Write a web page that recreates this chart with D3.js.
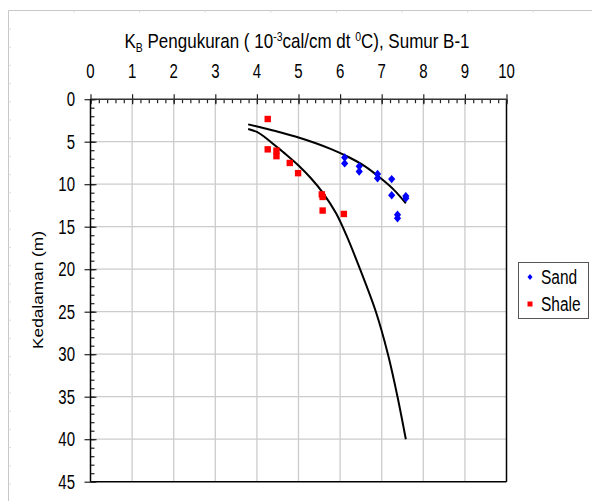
<!DOCTYPE html>
<html><head><meta charset="utf-8">
<script src="https://cdn.jsdelivr.net/npm/d3@7"></script>
<style>
body{margin:0;background:#fff;}
svg{display:block;font-family:"Liberation Sans",Arial,sans-serif;}
</style></head>
<body>
<svg id="c" width="592" height="501"></svg>
<script>
// ---- data ----
const xTicks = [0,1,2,3,4,5,6,7,8,9,10];
const yTicks = [0,5,10,15,20,25,30,35,40,45];
const seriesNames = ["Sand","Shale"];
const sandX = [6.11,6.11,6.46,6.46,6.90,6.90,7.24,7.24,7.58,7.58,7.38,7.38];
const sandY = [6.85,7.55,7.90,8.50,8.80,9.30,9.40,11.30,11.40,11.65,13.60,14.00];
const shaleX = [4.26,4.26,4.47,4.47,4.79,4.99,5.56,5.58,5.58,6.09];
const shaleY = [2.33,5.90,6.05,6.70,7.50,8.70,11.20,11.50,13.10,13.50];
const sandTrendX = [3.79,4.20,4.60,5.00,5.40,5.80,6.20,6.60,7.00,7.30,7.58];
const sandTrendY = [2.96,3.45,3.95,4.50,5.15,5.90,6.80,7.90,9.40,10.70,12.25];
const shaleTrendX = [3.79,4.00,4.20,4.40,4.70,5.00,5.30,5.60,5.90,6.15,6.48,6.86,7.15,7.38,7.58];
const shaleTrendY = [3.50,3.85,4.50,5.30,6.50,7.80,9.30,11.10,13.40,16.00,20.00,25.00,30.00,35.00,40.00];

const svg = d3.select("#c");
const x = d3.scaleLinear().domain([0,10]).range([90.5,506.5]);
const y = d3.scaleLinear().domain([0,45]).range([99.2,481.7]);
const VS = 1.3; // vertical stretch of the lettering in the reference

// sheet frame decoration
const frame = svg.append("g").attr("stroke","#c8c8c8").attr("stroke-width",1);
frame.append("line").attr("x1",8.5).attr("x2",592).attr("y1",10.5).attr("y2",10.5);
frame.append("line").attr("x1",8.5).attr("x2",8.5).attr("y1",10.5).attr("y2",501);
d3.range(29,501,18.2).forEach(v=>frame.append("line").attr("x1",8.5).attr("x2",11).attr("y1",v).attr("y2",v).attr("stroke","#ddd"));
d3.range(74,592,65.6).forEach(v=>frame.append("line").attr("x1",v).attr("x2",v).attr("y1",10.5).attr("y2",13).attr("stroke","#ddd"));

// gridlines
const grid = svg.append("g").attr("stroke","#cccccc").attr("stroke-width",1.3);
grid.selectAll(".vg").data(xTicks.slice(1,-1)).join("line")
  .attr("x1",d=>x(d)).attr("x2",d=>x(d)).attr("y1",y(0)).attr("y2",y(45));
grid.selectAll(".hg").data(yTicks.slice(1,-1)).join("line")
  .attr("x1",x(0)).attr("x2",x(10)).attr("y1",d=>y(d)).attr("y2",d=>y(d));

// plot border right & bottom
svg.append("line").attr("x1",x(10)).attr("x2",x(10)).attr("y1",y(0)).attr("y2",y(45)).attr("stroke","#000").attr("stroke-width",1.5);
svg.append("line").attr("x1",x(0)).attr("x2",x(10)).attr("y1",y(45)).attr("y2",y(45)).attr("stroke","#000").attr("stroke-width",1.5);

function styleAxis(g){ g.select(".domain").remove(); g.selectAll("line").attr("stroke","#222").attr("stroke-width",1.2); }

// top axis ticks
svg.append("g").attr("transform",`translate(0,${y(0)})`)
  .call(d3.axisTop(x).tickValues(xTicks).tickSize(5).tickFormat("")).call(styleAxis);
svg.append("g").attr("transform",`translate(0,${y(0)})`)
  .call(d3.axisBottom(x).tickValues(xTicks).tickSize(5).tickFormat("")).call(styleAxis);
svg.append("g").attr("transform",`translate(0,${y(0)})`)
  .call(d3.axisBottom(x).tickValues(d3.range(0,10.01,0.2)).tickSize(4).tickFormat("")).call(styleAxis);
svg.append("line").attr("x1",x(0)).attr("x2",x(10)).attr("y1",y(0)).attr("y2",y(0)).attr("stroke","#333").attr("stroke-width",1.5);
// top labels
svg.append("g").selectAll("text").data(xTicks).join("text")
  .attr("transform",d=>`translate(${x(d)},78) scale(1,${VS})`)
  .attr("text-anchor","middle").attr("font-size",15).attr("fill","#000").text(d=>d);

// left axis ticks
svg.append("g").attr("transform",`translate(${x(0)},0)`)
  .call(d3.axisLeft(y).tickValues(yTicks).tickSize(6).tickFormat("")).call(styleAxis);
svg.append("g").attr("transform",`translate(${x(0)},0)`)
  .call(d3.axisRight(y).tickValues(yTicks).tickSize(6).tickFormat("")).call(styleAxis);
svg.append("g").attr("transform",`translate(${x(0)},0)`)
  .call(d3.axisRight(y).tickValues(d3.range(0,45.01,1)).tickSize(4).tickFormat("")).call(styleAxis);
svg.append("line").attr("x1",x(0)).attr("x2",x(0)).attr("y1",y(0)).attr("y2",y(45)).attr("stroke","#000").attr("stroke-width",1.5);
// left labels
svg.append("g").selectAll("text").data(yTicks).join("text")
  .attr("transform",d=>`translate(75,${y(d)+7}) scale(1,${VS})`)
  .attr("text-anchor","end").attr("font-size",15).attr("fill","#000").text(d=>d);

// title
const t = svg.append("text").attr("transform",`translate(297,48) scale(1,1.2)`)
  .attr("text-anchor","middle").attr("font-size",17).attr("fill","#000");
t.append("tspan").text("K");
t.append("tspan").attr("font-size",10.5).attr("dy",3).text("B");
t.append("tspan").attr("dy",-3).text(" Pengukuran ( 10");
t.append("tspan").attr("font-size",10.5).attr("dy",-6).text("-3");
t.append("tspan").attr("dy",6).text("cal/cm dt ");
t.append("tspan").attr("font-size",10.5).attr("dy",-6).text("0");
t.append("tspan").attr("dy",6).text("C), Sumur B-1");

// y title
svg.append("text").attr("transform","translate(43,290) rotate(-90) scale(1.15,1)").attr("text-anchor","middle")
  .attr("font-size",15).attr("fill","#000").text("Kedalaman (m)");

// trend lines
const line = d3.line().x(d=>x(d[0])).y(d=>y(d[1])).curve(d3.curveCatmullRom.alpha(0.5));
svg.append("path").datum(sandTrendX.map((v,i)=>[v,sandTrendY[i]])).attr("d",line)
  .attr("fill","none").attr("stroke","#000").attr("stroke-width",2);
svg.append("path").datum(shaleTrendX.map((v,i)=>[v,shaleTrendY[i]])).attr("d",line)
  .attr("fill","none").attr("stroke","#000").attr("stroke-width",2);

// markers
const diamond = (cx,cy,w,h)=>`M${cx},${cy-h}L${cx+w},${cy}L${cx},${cy+h}L${cx-w},${cy}Z`;
svg.append("g").selectAll("path").data(sandX.map((v,i)=>[v,sandY[i]])).join("path")
  .attr("d",d=>diamond(x(d[0]),y(d[1]),3.6,4.2)).attr("fill","#0000ff");
svg.append("g").selectAll("rect").data(shaleX.map((v,i)=>[v,shaleY[i]])).join("rect")
  .attr("x",d=>x(d[0])-3.2).attr("y",d=>y(d[1])-3.2).attr("width",6.4).attr("height",6.4).attr("fill","#ff0000");

// legend
const lg = svg.append("g");
lg.append("rect").attr("x",518.5).attr("y",262.5).attr("width",70).attr("height",56).attr("fill","#fff").attr("stroke","#555").attr("stroke-width",1);
const colors = ["#0000ff","#ff0000"];
seriesNames.forEach((n,i)=>{
  const cy = 277 + i*27;
  if(i===0) lg.append("path").attr("d",diamond(530,cy,2.5,3)).attr("fill",colors[i]);
  else lg.append("rect").attr("x",527.5).attr("y",cy-2.5).attr("width",5).attr("height",5).attr("fill",colors[i]);
  lg.append("text").attr("transform",`translate(541,${cy+7.3}) scale(1,${VS})`)
    .attr("font-size",15.5).attr("fill","#000").text(n);
});
</script>
</body></html>
